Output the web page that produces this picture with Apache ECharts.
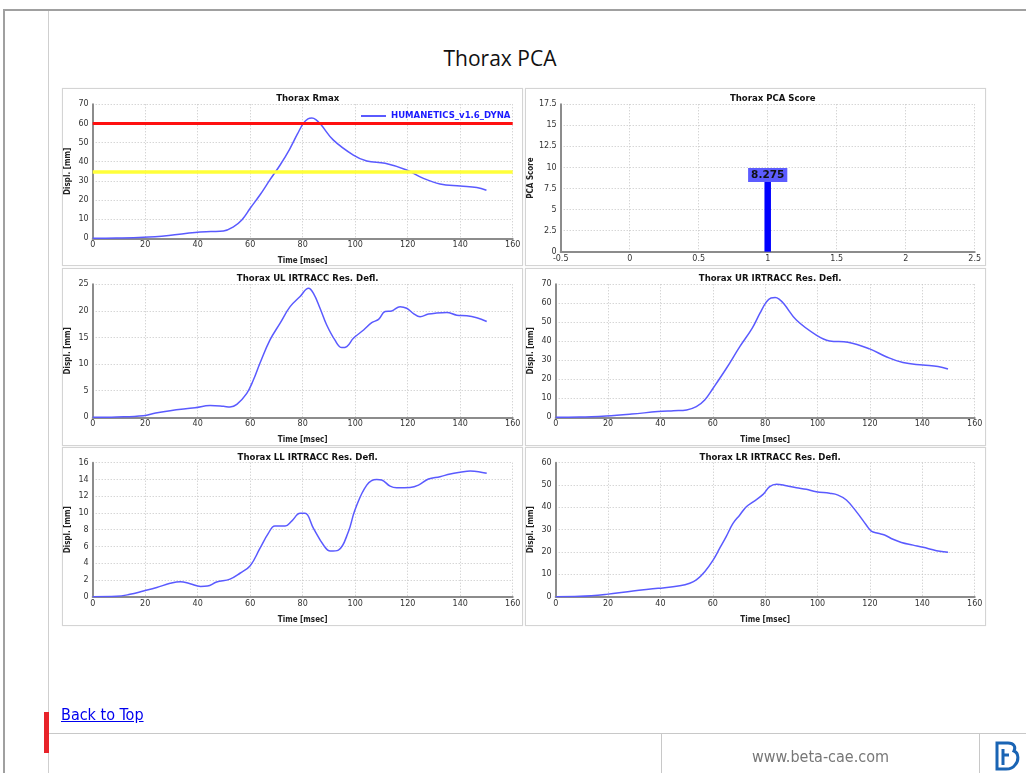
<!DOCTYPE html>
<html>
<head>
<meta charset="utf-8">
<script src="https://cdn.jsdelivr.net/npm/echarts@6/dist/echarts.min.js"></script>
<style>
  html, body { margin:0; padding:0; background:#fff; width:1026px; height:773px; overflow:hidden; position:relative; font-family:"Liberation Sans", Arial, sans-serif; }
  .abs { position:absolute; }
  #title { left:0; width:1000px; top:44px; text-align:center; font-family:"Open Sans", sans-serif; font-size:21px; color:#111; }
  .panel { position:absolute; border:1px solid #d4d4d4; box-shadow:0 0 1px #e8e8e8; background:#fff; }
  #chart { position:absolute; left:0; top:0; width:1026px; height:773px; }
  #back { left:61px; top:705px; font-size:16px; color:#0000ee; text-decoration:underline; font-family:"DejaVu Sans Condensed","DejaVu Sans",sans-serif; }
  #site { left:662px; width:317px; top:747px; text-align:center; font-size:16px; color:#777; font-family:"DejaVu Sans Condensed","Liberation Sans",sans-serif; }
</style>
</head>
<body>
<div class="abs" style="left:3px;top:9px;width:1023px;height:2px;background:#a0a0a0;"></div>
<div class="abs" style="left:3px;top:9px;width:2px;height:764px;background:#a0a0a0;"></div>
<div class="abs" style="left:48px;top:11px;width:1px;height:762px;background:#cfcfcf;"></div>
<div id="title" class="abs">Thorax PCA</div>
<div class="panel" style="left:62px;top:88px;width:459px;height:176px;"></div>
<div class="panel" style="left:525px;top:88px;width:459px;height:176px;"></div>
<div class="panel" style="left:62px;top:268px;width:459px;height:176px;"></div>
<div class="panel" style="left:525px;top:268px;width:459px;height:176px;"></div>
<div class="panel" style="left:62px;top:447px;width:459px;height:177px;"></div>
<div class="panel" style="left:525px;top:447px;width:459px;height:177px;"></div>
<div id="chart"></div>
<a id="back" class="abs" href="#">Back to Top</a>
<div class="abs" style="left:44px;top:712px;width:5px;height:41px;background:#e8232a;"></div>
<div class="abs" style="left:49px;top:733px;width:977px;height:1px;background:#c8c8c8;"></div>
<div class="abs" style="left:661px;top:733px;width:1px;height:40px;background:#c8c8c8;"></div>
<div class="abs" style="left:979px;top:733px;width:1px;height:40px;background:#c8c8c8;"></div>
<div id="site" class="abs">www.beta-cae.com</div>
<svg class="abs" style="left:994px;top:741px;" width="28" height="32" viewBox="0 0 28 32">
  <path d="M3 2 H14 C20 2 22 6 20 10 C25 12 25 20 21 24 C19 27 16 28 12 28 H3 Z" fill="none" stroke="#1a64b4" stroke-width="3"/>
  <path d="M9 8 V24 M9 14 H15" fill="none" stroke="#1a64b4" stroke-width="3"/>
</svg>
<script>
// ---- data ----
const timeTicks = [0, 20, 40, 60, 80, 100, 120, 140, 160];
const legendName = 'HUMANETICS_v1.6_DYNA';
const rmaxLimits = [60, 35];
const pcaX = [1];
const pcaScore = [8.275];
const rmax = [[0,0],[9,0.1],[19.3,0.5],[29,1.5],[39,3],[45,3.5],[49.8,3.8],[53.6,6],[56.8,9.6],[60,15.7],[63.7,22.6],[67.5,30.5],[71.4,38.3],[75,46.5],[78,54.5],[80.3,60.2],[82,62.4],[83.5,62.8],[85,62],[87,59.3],[91.7,51.3],[99.3,43.5],[104.4,40.4],[111.4,39.2],[119.6,35.7],[126,31.3],[132.3,28.4],[140,27.3],[146.3,26.5],[150,25.1]];
const ul = [[0,0],[9.1,0.06],[19.3,0.3],[24,0.8],[29.5,1.25],[39,1.8],[44.7,2.2],[49.8,2.07],[52.3,1.94],[54.9,2.44],[58.7,4.5],[61.2,7.0],[63.7,10.15],[67.5,14.5],[71.4,17.7],[75.2,20.8],[79,22.7],[82.2,24.25],[84.1,23.3],[86.6,20.5],[89.1,17.4],[92.3,14.5],[94.9,13.1],[96.8,13.3],[99.3,14.85],[103.2,16.4],[106.3,17.8],[108.9,18.4],[111.4,19.9],[113.9,20.0],[117.1,20.8],[119.6,20.5],[122.2,19.5],[124.7,18.9],[127.9,19.4],[131,19.6],[134.9,19.7],[138.7,19.2],[142.5,19.1],[146.3,18.7],[150.1,18.0]];
const ur = [[0,0],[9,0.1],[19.3,0.7],[29,1.7],[39,3],[45,3.5],[50,3.9],[53.7,5.6],[56.9,9.1],[60.1,15.3],[65.2,25.8],[70.3,37.2],[75,46.8],[78,54.8],[80.4,60.6],[82.2,62.8],[83.8,63],[85.3,62.2],[87.2,59.6],[91.9,51.2],[99.5,43.3],[104.6,40.2],[111.6,39.5],[119.9,36],[126.2,31.9],[132.6,28.8],[140.2,27.5],[146,26.7],[149.8,25.4]];
const ll = [[0,0],[9.1,0.04],[14.2,0.28],[19.3,0.68],[24.4,1.1],[29.5,1.6],[33.4,1.8],[37.1,1.55],[41.1,1.23],[43.7,1.27],[47.2,1.75],[52.3,2.1],[56.1,2.8],[60,3.7],[63.7,5.77],[66.9,7.56],[69.4,8.44],[73.3,8.44],[75.8,9.03],[79,9.95],[80.9,9.95],[84.1,8.16],[87.9,6.17],[90.5,5.45],[93.6,5.57],[97.4,7.76],[99.9,10.35],[104.4,13.33],[108.2,14.0],[110.1,13.93],[113.3,13.2],[115.8,13.0],[120.9,13.05],[124.1,13.33],[127.9,14.05],[132.3,14.33],[136.2,14.65],[140,14.85],[143.8,15.0],[147,14.93],[150.1,14.73]];
const lr = [[0,0],[9.2,0.15],[19.3,1.04],[29.5,2.54],[39.1,3.73],[47.4,4.9],[51.2,6],[53.7,7.5],[56.9,11.2],[60.1,16.4],[62.6,21.6],[65.1,26.9],[67.7,32.8],[70.3,36.6],[72.8,40.3],[75.4,42.5],[79.2,45.8],[81.7,49.3],[84.3,50.4],[88.1,49.7],[91.9,48.8],[95.7,48.1],[99.5,47],[104.6,46.3],[107.8,45.5],[111,43.3],[114.8,38.1],[118.6,32.1],[120.5,29.4],[123.1,28.4],[125.6,27.6],[128.8,25.7],[132,24.3],[136.5,23.1],[140.3,22.1],[145.4,20.6],[149.8,19.9]];

// ---- layout ----
const grids = [
  {left:92.7, top:104.3, width:420, height:134},
  {left:560.7, top:104.3, width:414, height:147.4},
  {left:92.7, top:284.3, width:420, height:133},
  {left:555.7, top:284.3, width:419, height:133},
  {left:92.7, top:462.7, width:420, height:134},
  {left:555.7, top:462.7, width:419, height:134}
];
const titles = ['Thorax Rmax','Thorax PCA Score','Thorax UL IRTRACC Res. Defl.','Thorax UR IRTRACC Res. Defl.','Thorax LL IRTRACC Res. Defl.','Thorax LR IRTRACC Res. Defl.'];
const yMax = [70, 17.5, 25, 70, 16, 60];
const yInt = [10, 2.5, 5, 10, 2, 10];
const yNames = ['Displ. [mm]','PCA Score','Displ. [mm]','Displ. [mm]','Displ. [mm]','Displ. [mm]'];

const labelFont = {fontFamily:'DejaVu Sans', fontSize:8, color:'#333'};
const nameFont = {fontFamily:'DejaVu Sans Condensed', fontSize:8, fontWeight:'bold', color:'#222'};
const gridLine = {show:true, lineStyle:{color:'#c4c4c4', type:[1,2], width:1}};
const axisLn = {show:true, onZero:false, lineStyle:{color:'#8c8c8c', width:2}};
const curveColor = '#5a5aff';

const option = {
  animation:false,
  title: titles.map((t,i)=>({text:t, left:grids[i].left+grids[i].width/2, top:grids[i].top-15.5, textAlign:'center',
    textStyle:{fontFamily:'DejaVu Sans Condensed', fontSize:9.5, fontWeight:'bold', color:'#111'}})),
  legend:{data:[legendName], left:356, top:106, itemWidth:25, itemHeight:2, icon:'rect', itemGap:5,
    textStyle:{fontFamily:'DejaVu Sans Condensed', fontSize:9.5, fontWeight:'bold', color:'#1a1aff'}},
  grid: grids.map(g=>Object.assign({containLabel:false}, g)),
  xAxis: grids.map((g,i)=> i===1 ? {
      type:'value', gridIndex:i, min:-0.5, max:2.5, interval:0.5,
      axisLine:axisLn, axisTick:{show:false}, splitLine:gridLine,
      axisLabel:Object.assign({margin:3}, labelFont)
    } : {
      type:'value', gridIndex:i, min:timeTicks[0], max:timeTicks[timeTicks.length-1], interval:timeTicks[1]-timeTicks[0],
      name:'Time [msec]', nameLocation:'middle', nameGap:19, nameTextStyle:nameFont,
      axisLine:axisLn, axisTick:{show:false}, splitLine:gridLine,
      axisLabel:Object.assign({margin:3}, labelFont)
    }),
  yAxis: grids.map((g,i)=>({
      type:'value', gridIndex:i, min:0, max:yMax[i], interval:yInt[i],
      name:yNames[i], nameLocation:'middle', nameGap: i===1 ? 26 : 21, nameRotate:90, nameTextStyle:nameFont,
      axisLine:axisLn, axisTick:{show:false}, splitLine:gridLine,
      axisLabel:Object.assign({margin:4}, labelFont)
    })),
  series: [
    {type:'line', name:legendName, xAxisIndex:0, yAxisIndex:0, data:rmax, smooth:0.4, showSymbol:false,
      lineStyle:{color:curveColor, width:1.5}, itemStyle:{color:curveColor}, z:3,
      markLine:{silent:true, symbol:'none', label:{show:false}, animation:false,
        data:[{yAxis:rmaxLimits[0], lineStyle:{color:'#ff1010', width:3, type:'solid'}},
              {yAxis:rmaxLimits[1], lineStyle:{color:'#ffff3a', width:3.5, type:'solid'}}]}},
    {type:'bar', name:'PCA Score', xAxisIndex:1, yAxisIndex:1, data:pcaX.map((x,k)=>[x, pcaScore[k]]), barWidth:6.5,
      itemStyle:{color:'#0000ff'},
      label:{show:true, position:'top', distance:0, formatter:p=>p.value[1].toFixed(3),
        backgroundColor:'#5c5cff', padding:[2,3,1,3], fontFamily:'DejaVu Sans', fontSize:10.5, fontWeight:'bold', color:'#111'}},
    {type:'line', name:legendName, xAxisIndex:2, yAxisIndex:2, data:ul, smooth:0.4, showSymbol:false, lineStyle:{color:curveColor, width:1.5}, itemStyle:{color:curveColor}},
    {type:'line', name:legendName, xAxisIndex:3, yAxisIndex:3, data:ur, smooth:0.4, showSymbol:false, lineStyle:{color:curveColor, width:1.5}, itemStyle:{color:curveColor}},
    {type:'line', name:legendName, xAxisIndex:4, yAxisIndex:4, data:ll, smooth:0.4, showSymbol:false, lineStyle:{color:curveColor, width:1.5}, itemStyle:{color:curveColor}},
    {type:'line', name:legendName, xAxisIndex:5, yAxisIndex:5, data:lr, smooth:0.4, showSymbol:false, lineStyle:{color:curveColor, width:1.5}, itemStyle:{color:curveColor}}
  ]
};
const chart = echarts.init(document.getElementById('chart'), null, {renderer:'canvas'});
chart.setOption(option);
</script>
</body>
</html>
